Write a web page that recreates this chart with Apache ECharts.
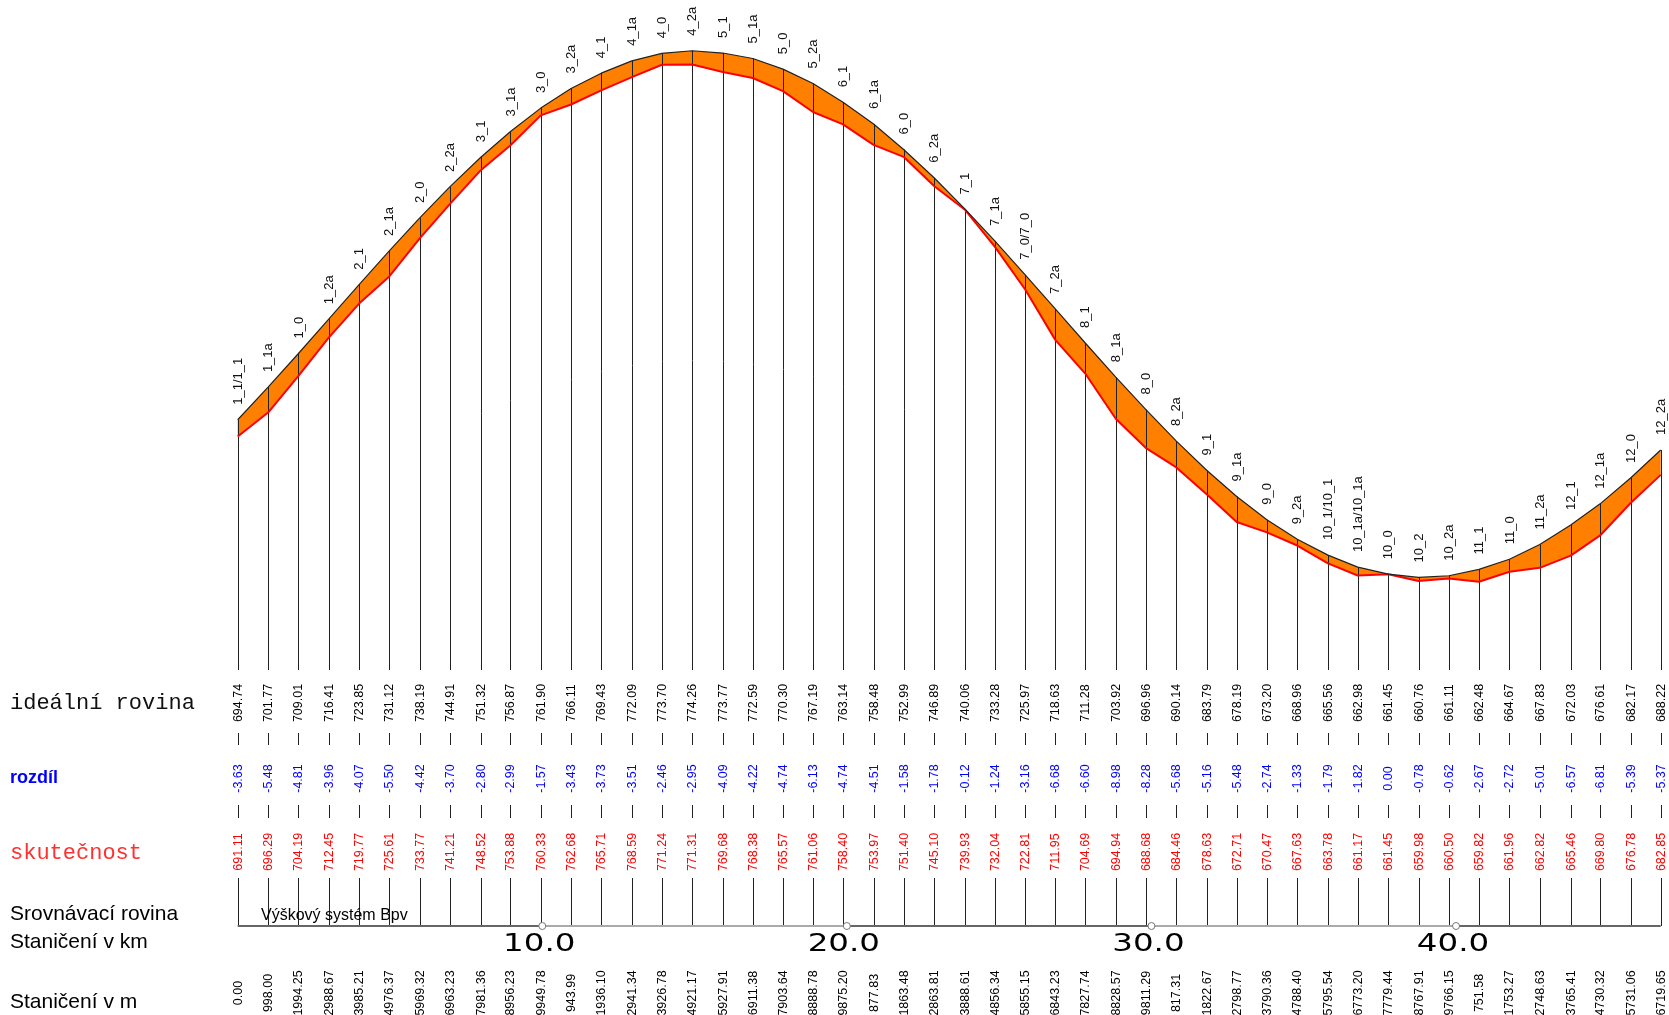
<!DOCTYPE html>
<html>
<head>
<meta charset="utf-8">
<script src="https://cdn.jsdelivr.net/npm/echarts@6/dist/echarts.min.js"></script>
<style>
html,body{margin:0;padding:0;background:#fff;}
#chart{width:1669px;height:1015px;}
</style>
</head>
<body>
<div id="chart"></div>
<script>
// ---- DATA ----
const names = ['1_1/1_1','1_1a','1_0','1_2a','2_1','2_1a','2_0','2_2a','3_1','3_1a','3_0','3_2a',
  '4_1','4_1a','4_0','4_2a','5_1','5_1a','5_0','5_2a','6_1','6_1a','6_0','6_2a',
  '7_1','7_1a','7_0/7_0','7_2a','8_1','8_1a','8_0','8_2a','9_1','9_1a','9_0','9_2a',
  '10_1/10_1','10_1a/10_1a','10_0','10_2','10_2a','11_1','11_0','11_2a','12_1','12_1a','12_0','12_2a'];
const stations = [0.00, 998.00, 1994.25, 2988.67, 3985.21, 4976.37, 5969.32, 6963.23, 7981.36, 8956.23,
  9949.78, 10943.99, 11936.10, 12941.34, 13926.78, 14921.17, 15927.91, 16911.38, 17903.64, 18888.78,
  19875.20, 20877.83, 21863.48, 22863.81, 23888.61, 24856.34, 25855.15, 26843.23, 27827.74, 28828.57,
  29811.29, 30817.31, 31822.67, 32798.77, 33790.36, 34788.40, 35795.54, 36773.20, 37779.44, 38767.91,
  39766.15, 40751.58, 41753.27, 42748.63, 43765.41, 44730.32, 45731.06, 46719.65];
const ideal = [694.74, 701.77, 709.01, 716.41, 723.85, 731.12, 738.19, 744.91, 751.32, 756.87,
  761.90, 766.11, 769.43, 772.09, 773.70, 774.26, 773.77, 772.59, 770.30, 767.19,
  763.14, 758.48, 752.99, 746.89, 740.06, 733.28, 725.97, 718.63, 711.28, 703.92,
  696.96, 690.14, 683.79, 678.19, 673.20, 668.96, 665.56, 662.98, 661.45, 660.76,
  661.11, 662.48, 664.67, 667.83, 672.03, 676.61, 682.17, 688.22];
const rozdil = [-3.63, -5.48, -4.81, -3.96, -4.07, -5.50, -4.42, -3.70, -2.80, -2.99,
  -1.57, -3.43, -3.73, -3.51, -2.46, -2.95, -4.09, -4.22, -4.74, -6.13,
  -4.74, -4.51, -1.58, -1.78, -0.12, -1.24, -3.16, -6.68, -6.60, -8.98,
  -8.28, -5.68, -5.16, -5.48, -2.74, -1.33, -1.79, -1.82, 0.00, -0.78,
  -0.62, -2.67, -2.72, -5.01, -6.57, -6.81, -5.39, -5.37];
const actual = [691.11, 696.29, 704.19, 712.45, 719.77, 725.61, 733.77, 741.21, 748.52, 753.88,
  760.33, 762.68, 765.71, 768.59, 771.24, 771.31, 769.68, 768.38, 765.57, 761.06,
  758.40, 753.97, 751.40, 745.10, 739.93, 732.04, 722.81, 711.95, 704.69, 694.94,
  688.68, 684.46, 678.63, 672.71, 670.47, 667.63, 663.78, 661.17, 661.45, 659.98,
  660.50, 659.82, 661.96, 662.82, 665.46, 669.80, 676.78, 682.85];
const kmTicks = [10, 20, 30, 40];
const kmLabels = ['10.0', '20.0', '30.0', '40.0'];

// ---- LAYOUT ----
const Y_MIN = 640.8, Y_MAX = 785.2;
const X_MAX = stations[stations.length - 1];
const SANS = '"Liberation Sans", Arial, sans-serif';
const ROW_IDEAL = 703, TICK1 = [733, 745], ROW_DIFF = 778.5, TICK2 = [805, 818], ROW_ACT = 852;
const LOW = [878, 926], ST_Y = 993, KM_Y = 944;

const chart = echarts.init(document.getElementById('chart'), null, {renderer: 'canvas'});

const pts = stations.map((s, i) => [s, ideal[i]]);

const option = {
  animation: false,
  backgroundColor: '#fff',
  grid: {left: 237.7, right: 8.3, top: 0, bottom: 345},
  xAxis: {type: 'value', min: 0, max: X_MAX, show: false},
  yAxis: {type: 'value', min: Y_MIN, max: Y_MAX, show: false},
  series: [
    {
      type: 'custom', name: 'fill', z: 1, clip: false,
      data: [[0, Y_MIN]],
      renderItem: function (params, api) {
        const poly = [];
        for (let i = 0; i < stations.length; i++) poly.push(api.coord([stations[i], ideal[i]]));
        for (let i = stations.length - 1; i >= 0; i--) poly.push(api.coord([stations[i], actual[i]]));
        return {type: 'polygon', shape: {points: poly}, style: {fill: '#FF8000', stroke: null}};
      }
    },
    {
      type: 'custom', name: 'table', z: 2, clip: false,
      data: pts,
      encode: {x: 0, y: 1},
      renderItem: function (params, api) {
        const i = params.dataIndex;
        const top = api.coord([stations[i], ideal[i]]);
        const bot = api.coord([stations[i], Y_MIN]);
        const x = Math.round(top[0]) + 0.5;
        const ch = [];
        ch.push({type: 'line', shape: {x1: x, y1: top[1], x2: x, y2: bot[1]}, style: {stroke: '#222', lineWidth: 1}});
        ch.push({type: 'text', x: top[0] + 0.5, y: top[1] - 15, rotation: Math.PI / 2,
          style: {text: names[i], fill: '#111', fontSize: 13, fontFamily: SANS, align: 'left', verticalAlign: 'middle'}});
        ch.push({type: 'text', x: x, y: ROW_IDEAL, rotation: Math.PI / 2,
          style: {text: ideal[i].toFixed(2), fill: '#000', fontSize: 12.5, fontFamily: SANS, align: 'center', verticalAlign: 'middle'}});
        ch.push({type: 'line', shape: {x1: x, y1: TICK1[0], x2: x, y2: TICK1[1]}, style: {stroke: '#222', lineWidth: 1}});
        ch.push({type: 'text', x: x, y: ROW_DIFF, rotation: Math.PI / 2,
          style: {text: rozdil[i].toFixed(2), fill: '#0000FF', fontSize: 12.5, fontFamily: SANS, align: 'center', verticalAlign: 'middle'}});
        ch.push({type: 'line', shape: {x1: x, y1: TICK2[0], x2: x, y2: TICK2[1]}, style: {stroke: '#222', lineWidth: 1}});
        ch.push({type: 'text', x: x, y: ROW_ACT, rotation: Math.PI / 2,
          style: {text: actual[i].toFixed(2), fill: '#FF0000', fontSize: 12.5, fontFamily: SANS, align: 'center', verticalAlign: 'middle'}});
        ch.push({type: 'line', shape: {x1: x, y1: LOW[0], x2: x, y2: LOW[1]}, style: {stroke: '#222', lineWidth: 1}});
        ch.push({type: 'text', x: x, y: ST_Y, rotation: Math.PI / 2,
          style: {text: (stations[i] % 10000).toFixed(2), fill: '#000', fontSize: 12.5, fontFamily: SANS, align: 'center', verticalAlign: 'middle'}});
        return {type: 'group', children: ch};
      }
    },
    {
      type: 'custom', name: 'km', z: 3, clip: false,
      data: [[0, Y_MIN]],
      renderItem: function (params, api) {
        const ch = [];
        const bounds = [0].concat(kmTicks.map(k => k * 1000)).concat([X_MAX]);
        for (let j = 0; j < bounds.length - 1; j++) {
          const a = api.coord([bounds[j], Y_MIN])[0];
          const b = api.coord([bounds[j + 1], Y_MIN])[0];
          ch.push({type: 'line', shape: {x1: a, y1: LOW[1], x2: b, y2: LOW[1]},
            style: {stroke: j % 2 === 0 ? '#666' : '#aaa', lineWidth: 2}});
        }
        kmTicks.forEach((k, j) => {
          const cx = api.coord([k * 1000, Y_MIN])[0];
          ch.push({type: 'circle', shape: {cx: cx, cy: LOW[1], r: 3.5}, style: {fill: '#fff', stroke: '#777', lineWidth: 1}});
          ch.push({type: 'text', x: cx - 3, y: KM_Y, scaleX: 1.3,
            style: {text: kmLabels[j], fill: '#000', fontSize: 25, fontFamily: '"DejaVu Sans", sans-serif', align: 'center', verticalAlign: 'middle'}});
        });
        return {type: 'group', children: ch};
      }
    },
    {
      type: 'line', name: 'skutečnost', z: 4, symbol: 'none',
      data: stations.map((s, i) => [s, actual[i]]),
      lineStyle: {color: '#FF0000', width: 2}
    },
    {
      type: 'line', name: 'ideální rovina', z: 5, symbol: 'none',
      data: pts,
      lineStyle: {color: '#222', width: 1.2}
    }
  ],
  graphic: [
    {type: 'text', x: 10, y: 703, style: {text: 'ideální rovina', fill: '#111', fontSize: 22, fontFamily: '"Liberation Mono", monospace', align: 'left', verticalAlign: 'middle'}},
    {type: 'text', x: 10, y: 778, style: {text: 'rozdíl', fill: '#0000FF', fontSize: 18, fontWeight: 'bold', fontFamily: '"Liberation Sans Narrow", "Liberation Sans", sans-serif', align: 'left', verticalAlign: 'middle'}},
    {type: 'text', x: 10, y: 853, style: {text: 'skutečnost', fill: '#FF3030', fontSize: 22, fontFamily: '"Liberation Mono", monospace', align: 'left', verticalAlign: 'middle'}},
    {type: 'text', x: 10, y: 914, style: {text: 'Srovnávací rovina', fill: '#000', fontSize: 21, fontFamily: SANS, align: 'left', verticalAlign: 'middle'}},
    {type: 'text', x: 10, y: 942, style: {text: 'Staničení v km', fill: '#000', fontSize: 21, fontFamily: SANS, align: 'left', verticalAlign: 'middle'}},
    {type: 'text', x: 10, y: 1002, style: {text: 'Staničení v m', fill: '#000', fontSize: 21, fontFamily: SANS, align: 'left', verticalAlign: 'middle'}},
    {type: 'text', x: 261, y: 916, z: 10, style: {text: 'Výškový systém Bpv', fill: '#000', fontSize: 16, fontFamily: SANS, align: 'left', verticalAlign: 'middle'}}
  ]
};
chart.setOption(option);
</script>
</body>
</html>
